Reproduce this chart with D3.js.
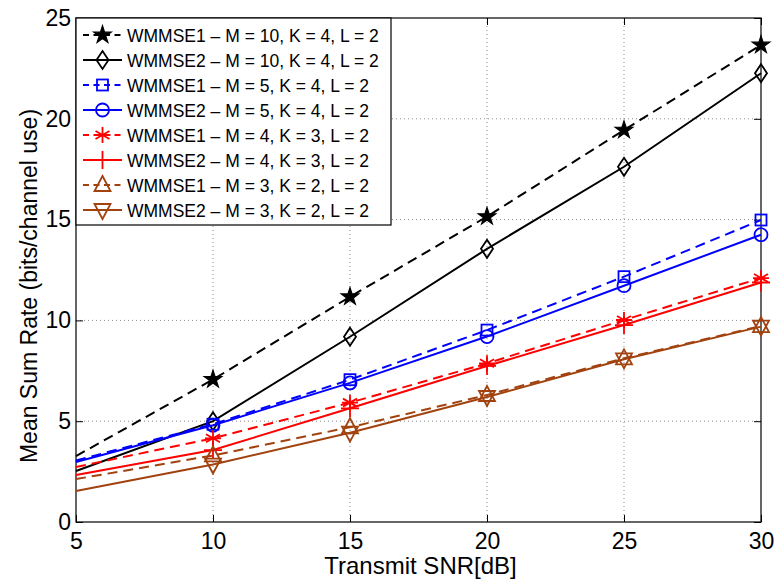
<!DOCTYPE html>
<html>
<head>
<meta charset="utf-8">
<script src="https://cdn.jsdelivr.net/npm/d3@7"></script>
<style>
  body { margin: 0; background: #fff; }
  svg { font-family: "Liberation Sans", Arial, sans-serif; }
</style>
</head>
<body>
<svg id="canvas" width="775" height="581"></svg>
<script>
// values
const snr = [5, 10, 15, 20, 25, 30];
const xTicks = [5, 10, 15, 20, 25, 30];
const yTicks = [0, 5, 10, 15, 20, 25];

const wmmse1M10 = [3.27, 7.07, 11.17, 15.15, 19.44, 23.66];
const wmmse2M10 = [2.53, 5.0, 9.19, 13.55, 17.62, 22.26];
const wmmse1M5 = [3.05, 4.85, 7.06, 9.52, 12.17, 14.98];
const wmmse2M5 = [2.98, 4.8, 6.9, 9.2, 11.72, 14.25];
const wmmse1M4 = [2.73, 4.15, 5.92, 7.87, 10.02, 12.1];
const wmmse2M4 = [2.33, 3.57, 5.64, 7.74, 9.77, 11.88];
const wmmse1M3 = [2.13, 3.3, 4.7, 6.3, 8.12, 9.72];
const wmmse2M3 = [1.54, 2.85, 4.43, 6.2, 8.07, 9.69];

const names = [
  "WMMSE1 \u2013 M = 10, K = 4, L = 2",
  "WMMSE2 \u2013 M = 10, K = 4, L = 2",
  "WMMSE1 \u2013 M = 5, K = 4, L = 2",
  "WMMSE2 \u2013 M = 5, K = 4, L = 2",
  "WMMSE1 \u2013 M = 4, K = 3, L = 2",
  "WMMSE2 \u2013 M = 4, K = 3, L = 2",
  "WMMSE1 \u2013 M = 3, K = 2, L = 2",
  "WMMSE2 \u2013 M = 3, K = 2, L = 2"
];

const brown = "#a1420f";
let series = [
  { name: names[0], values: wmmse1M10, color: "#000", dashed: true, marker: "star" },
  { name: names[1], values: wmmse2M10, color: "#000", dashed: false, marker: "diamond" },
  { name: names[2], values: wmmse1M5, color: "#0000ff", dashed: true, marker: "square" },
  { name: names[3], values: wmmse2M5, color: "#0000ff", dashed: false, marker: "circle" },
  { name: names[4], values: wmmse1M4, color: "#ff0000", dashed: true, marker: "asterisk" },
  { name: names[5], values: wmmse2M4, color: "#ff0000", dashed: false, marker: "plus" },
  { name: names[6], values: wmmse1M3, color: brown, dashed: true, marker: "triUp" },
  { name: names[7], values: wmmse2M3, color: brown, dashed: false, marker: "triDown" }
];

let margin = { top: 18, right: 14, bottom: 59, left: 76 };
let width = 775 - margin.left - margin.right;
let height = 581 - margin.top - margin.bottom;

let svg = d3.select("#canvas");
let g = svg.append("g").attr("transform", `translate(${margin.left},${margin.top})`);

let x = d3.scaleLinear().domain([5, 30]).range([0, width]);
let y = d3.scaleLinear().domain([0, 25]).range([height, 0]);

// dotted grid
g.append("g")
  .selectAll("line")
  .data(xTicks.slice(1, -1))
  .enter()
  .append("line")
  .attr("x1", (d) => x(d)).attr("x2", (d) => x(d))
  .attr("y1", 0).attr("y2", height)
  .attr("stroke", "#8a8a8a").attr("stroke-width", 1).attr("stroke-dasharray", "1,3");
g.append("g")
  .selectAll("line")
  .data(yTicks.slice(1, -1))
  .enter()
  .append("line")
  .attr("y1", (d) => y(d)).attr("y2", (d) => y(d))
  .attr("x1", 0).attr("x2", width)
  .attr("stroke", "#8a8a8a").attr("stroke-width", 1).attr("stroke-dasharray", "1,3");

// axes with inward ticks
let styleAxis = (sel) => {
  sel.select(".domain").remove();
  sel.selectAll(".tick line").attr("stroke", "#000").attr("stroke-width", 1);
  sel.selectAll("text").attr("font-size", 23).attr("fill", "#000");
};
g.append("g")
  .attr("transform", `translate(0,${height})`)
  .call(d3.axisBottom(x).tickValues(xTicks).tickSizeInner(-7).tickSizeOuter(0).tickPadding(11))
  .call(styleAxis);
g.append("g")
  .call(d3.axisLeft(y).tickValues(yTicks).tickSizeInner(-7).tickSizeOuter(0).tickPadding(5))
  .call(styleAxis);
g.append("g")
  .call(d3.axisTop(x).tickValues(xTicks).tickSizeInner(-7).tickSizeOuter(0).tickFormat(""))
  .call(styleAxis);
g.append("g")
  .attr("transform", `translate(${width},0)`)
  .call(d3.axisRight(y).tickValues(yTicks).tickSizeInner(-7).tickSizeOuter(0).tickFormat(""))
  .call(styleAxis);

g.append("rect")
  .attr("width", width).attr("height", height)
  .attr("fill", "none").attr("stroke", "#000").attr("stroke-width", 1.2);

// axis labels
svg.append("text")
  .attr("x", margin.left + width / 2 + 2).attr("y", 574)
  .attr("text-anchor", "middle").attr("font-size", 24)
  .text("Transmit SNR[dB]");
svg.append("text")
  .attr("transform", `translate(37,${margin.top + height / 2 + 16}) rotate(-90)`)
  .attr("text-anchor", "middle").attr("font-size", 23)
  .text("Mean Sum Rate (bits/channel use)");

// marker drawing
let drawMarker = (sel, type, color) => {
  let s = sel.append("g");
  let stroke = (p) => p.attr("fill", "none").attr("stroke", color).attr("stroke-width", 1.8);
  if (type === "star") {
    s.append("path").attr("d", d3.symbol(d3.symbolStar, 95)())
      .attr("fill", color).attr("stroke", color).attr("stroke-width", 1.2);
  } else if (type === "diamond") {
    stroke(s.append("path").attr("d", "M0,-9L6,0L0,9L-6,0Z"));
  } else if (type === "square") {
    stroke(s.append("rect").attr("x", -5.5).attr("y", -5.5).attr("width", 11).attr("height", 11));
  } else if (type === "circle") {
    stroke(s.append("circle").attr("r", 6.5));
  } else if (type === "asterisk") {
    stroke(s.append("path").attr("d", "M0,-8V8M-7,-4L7,4M-7,4L7,-4M-8,0H8"));
  } else if (type === "plus") {
    stroke(s.append("path").attr("d", "M0,-9V9M-9,0H9"));
  } else if (type === "triUp") {
    stroke(s.append("path").attr("d", "M0,-9L8,6H-8Z"));
  } else if (type === "triDown") {
    stroke(s.append("path").attr("d", "M0,9L8,-6H-8Z"));
  }
  return s;
};

let line = d3.line().x((d, i) => x(snr[i])).y((d) => y(d));

let plot = g.append("g");
series.forEach((sr) => {
  plot.append("path")
    .datum(sr.values)
    .attr("d", line)
    .attr("fill", "none")
    .attr("stroke", sr.color)
    .attr("stroke-width", 2)
    .attr("stroke-dasharray", sr.dashed ? "10,6" : null);
  sr.values.forEach((v, i) => {
    if (i === 0) return;
    drawMarker(plot, sr.marker, sr.color)
      .attr("transform", `translate(${x(snr[i])},${y(v)})`);
  });
});

// legend
let legend = g.append("g");
legend.append("rect")
  .attr("x", 0).attr("y", 0).attr("width", 315).attr("height", 207)
  .attr("fill", "#fff").attr("stroke", "#000").attr("stroke-width", 1.2);
series.forEach((sr, i) => {
  let ly = 17 + i * 25;
  let row = legend.append("g").attr("transform", `translate(0,${ly})`);
  row.append("line")
    .attr("x1", 7).attr("x2", 46).attr("y1", 0).attr("y2", 0)
    .attr("stroke", sr.color).attr("stroke-width", 2)
    .attr("stroke-dasharray", sr.dashed ? "6,4.5" : null);
  drawMarker(row, sr.marker, sr.color).attr("transform", "translate(26.5,0)");
  row.append("text")
    .attr("x", 51).attr("y", 6.5)
    .attr("font-size", 17.5)
    .text(sr.name);
});
</script>
</body>
</html>
